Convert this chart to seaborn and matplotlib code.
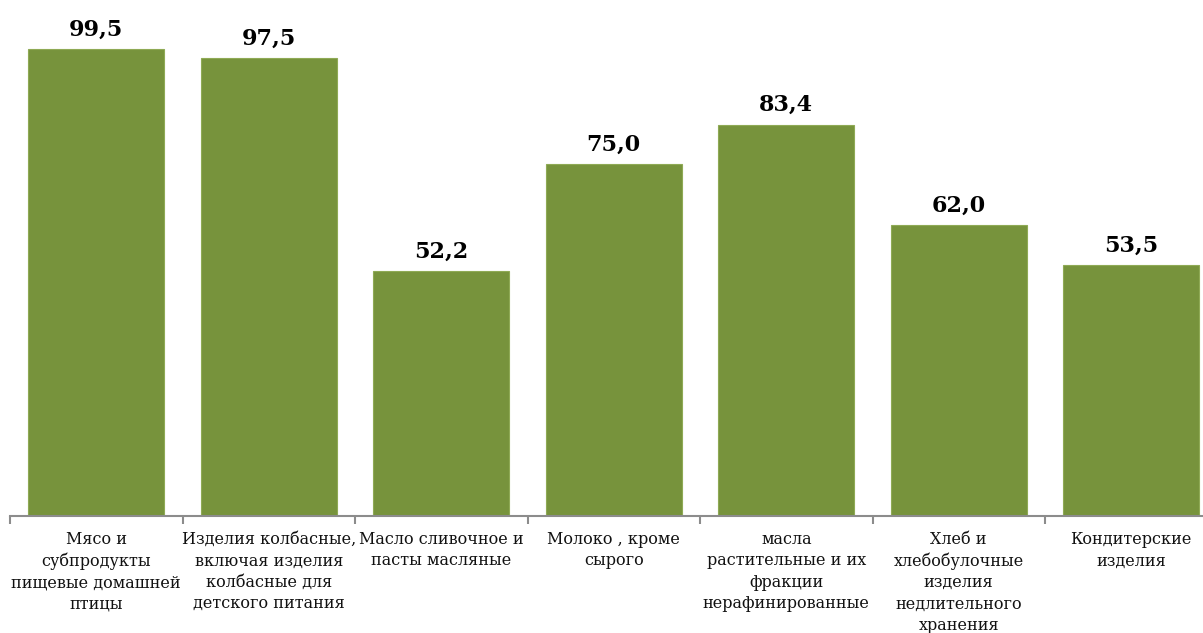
import matplotlib
matplotlib.use("Agg")
import matplotlib.pyplot as plt
import seaborn as sns
import pandas as pd
import numpy as np

categories = [
    "Мясо и\nсубпродукты\nпищевые домашней\nптицы",
    "Изделия колбасные,\nвключая изделия\nколбасные для\nдетского питания",
    "Масло сливочное и\nпасты масляные",
    "Молоко , кроме\nсырого",
    "масла\nрастительные и их\nфракции\nнерафинированные",
    "Хлеб и\nхлебобулочные\nизделия\nнедлительного\nхранения",
    "Кондитерские\nизделия",
]
values = [99.5, 97.5, 52.2, 75.0, 83.4, 62.0, 53.5]
value_labels = ["99,5", "97,5", "52,2", "75,0", "83,4", "62,0", "53,5"]

sns.set_theme(style="white")
plt.rcParams['font.family'] = ['DejaVu Serif']

W, H = 1203, 633
fig = plt.figure(figsize=(W / 100, H / 100), dpi=100)
ax = fig.add_axes([10 / W, (H - 516) / H, 1207.5 / W, 516 / H])

df = pd.DataFrame({"cat": categories, "val": values})
sns.barplot(data=df, x="cat", y="val", color="#77933C", saturation=1,
            width=0.79, ax=ax, edgecolor="#8faa55", linewidth=0.8)

ax.set_xlim(-0.5, len(categories) - 0.5)
ax.set_ylim(0, 516 / 4.694)
ax.set_xlabel("")
ax.set_ylabel("")
ax.set_yticks([])

for s in ["top", "right", "left"]:
    ax.spines[s].set_visible(False)
ax.spines["bottom"].set_color("#8c8c8c")
ax.spines["bottom"].set_linewidth(1.5)

ax.set_xticks(range(len(categories)))
ax.set_xticklabels(categories, fontsize=11.5, color="#111111", linespacing=1.32,
                   va="top", ha="center")
ax.tick_params(axis="x", which="major", length=0, pad=11)
ax.set_xticks(np.arange(-0.5, len(categories), 1.0), minor=True)
ax.tick_params(axis="x", which="minor", length=6, width=1.5, color="#8c8c8c",
               direction="out", bottom=True)

for i, (v, lab) in enumerate(zip(values, value_labels)):
    ax.annotate(lab, xy=(i, v), xytext=(0, 6), textcoords="offset points",
                ha="center", va="bottom", fontsize=16, fontweight="bold",
                color="#000000")

fig.savefig("out.png", dpi=100)
